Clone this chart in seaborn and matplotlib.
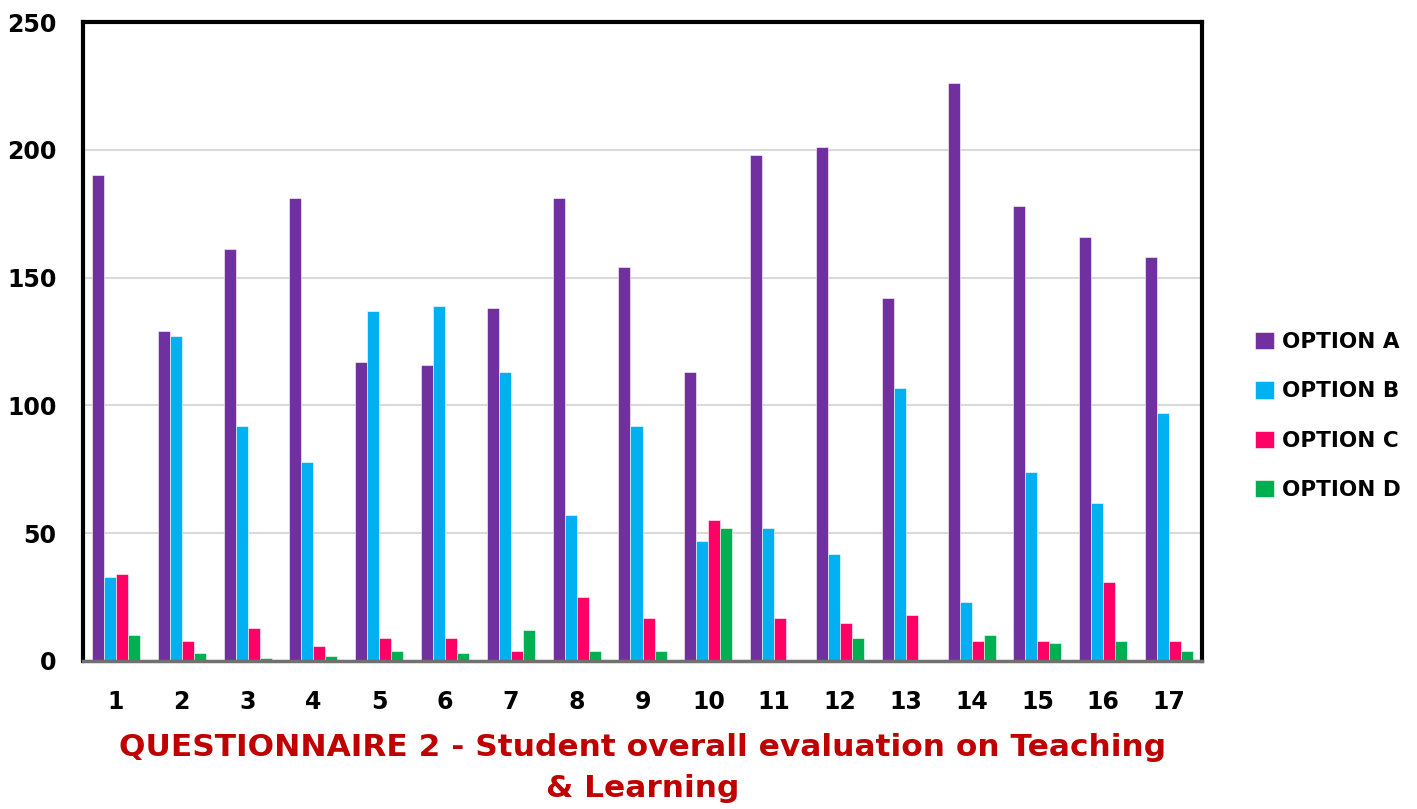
import numpy as np
import pandas as pd
import matplotlib
matplotlib.use("Agg")
import matplotlib.pyplot as plt
import seaborn as sns

questions = [str(i) for i in range(1, 18)]
option_a = [190, 129, 161, 181, 117, 116, 138, 181, 154, 113, 198, 201, 142, 226, 178, 166, 158]
option_b = [33, 127, 92, 78, 137, 139, 113, 57, 92, 47, 52, 42, 107, 23, 74, 62, 97]
option_c = [34, 8, 13, 6, 9, 9, 4, 25, 17, 55, 17, 15, 18, 8, 8, 31, 8]
option_d = [10, 3, 1, 2, 4, 3, 12, 4, 4, 52, 0, 9, 0, 10, 7, 8, 4]
series_names = ["OPTION A", "OPTION B", "OPTION C", "OPTION D"]
colors = ["#7030A0", "#00B0F0", "#FF0066", "#00B050"]
y_ticks = [0, 50, 100, 150, 200, 250]
title = "QUESTIONNAIRE 2 - Student overall evaluation on Teaching\n& Learning"

rows = []
for name, vals in zip(series_names, [option_a, option_b, option_c, option_d]):
    for q, v in zip(questions, vals):
        rows.append({"Question": q, "Option": name, "Count": v})
df = pd.DataFrame(rows)

sns.set_theme(style="white")
plt.rcParams['font.family'] = ['DejaVu Sans']
plt.rcParams['text.color'] = 'black'

fig = plt.figure(figsize=(14.17, 8.09), dpi=100)
ax = fig.add_axes([83/1417, 1 - 661/809, (1202-83)/1417, (661-22)/809])

sns.barplot(data=df, x="Question", y="Count", hue="Option", order=questions,
            hue_order=series_names, palette=colors, width=0.73, ax=ax,
            saturation=1, edgecolor="white", linewidth=0.4, legend=True)

ax.set_ylim(0, 250)
ax.set_xlim(-0.5, len(questions) - 0.5)
ax.set_yticks(y_ticks)
ax.yaxis.grid(True, color="#D9D9D9", linewidth=1.5)
ax.set_axisbelow(True)
ax.set_xlabel("")
ax.set_ylabel("")
ax.tick_params(axis="both", length=0)
ax.tick_params(axis="y", pad=19)
ax.tick_params(axis="x", pad=21)
for lab in ax.get_xticklabels() + ax.get_yticklabels():
    lab.set_fontsize(17)
    lab.set_fontweight("heavy")
    lab.set_color("black")

for side in ["left", "top", "right"]:
    ax.spines[side].set_color("black")
    ax.spines[side].set_linewidth(3)
ax.spines["bottom"].set_color("#707070")
ax.spines["bottom"].set_linewidth(2.5)

handles, labels = ax.get_legend_handles_labels()
ax.get_legend().remove()
leg = fig.legend(handles, labels, loc="center left", bbox_to_anchor=(1236/1417, 1 - 416/809),
                 frameon=False, handlelength=0.85, handleheight=0.85, handletextpad=0.4,
                 labelspacing=1.35, prop={"size": 15.5, "weight": "heavy"})
for t in leg.get_texts():
    t.set_color("black")

fig.text(643/1417, 1 - 768/809, title, ha="center", va="center", color="#C00000",
         fontsize=22.5, fontweight="heavy", linespacing=1.55)

fig.savefig("out.png", dpi=100)
